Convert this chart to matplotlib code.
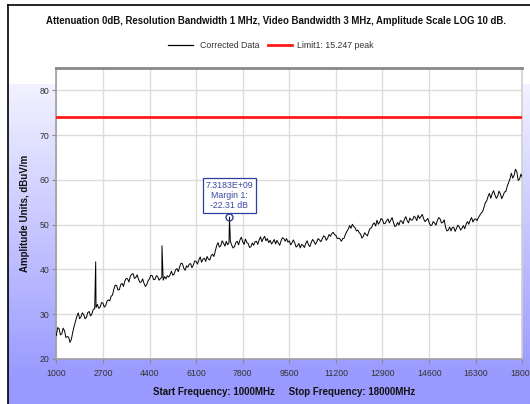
import numpy as np
import matplotlib
matplotlib.use("Agg")
import matplotlib.pyplot as plt
from matplotlib.lines import Line2D

# ---------------- data ----------------
title = "Attenuation 0dB, Resolution Bandwidth 1 MHz, Video Bandwidth 3 MHz, Amplitude Scale LOG 10 dB."
series_names = ["Corrected Data", "Limit1: 15.247 peak"]
x_ticks = [1000, 2700, 4400, 6100, 7800, 9500, 11200, 12900, 14600, 16300, 18000]
y_ticks = [20, 30, 40, 50, 60, 70, 80]
ylabel = "Amplitude Units, dBuV/m"
xlabel = "Start Frequency: 1000MHz     Stop Frequency: 18000MHz"

freq_start, freq_stop, freq_step = 1000, 18000, 100
# samples at 1000, 1100, ... 18000 MHz
trace_vals = [
    25.2, 26.8, 25.6, 26.3, 25.0, 23.7, 26.0, 28.4, 30.3, 29.4,   # 1000-1900
    29.9, 29.3, 30.6, 30.1, 31.2, 32.2, 31.6, 32.5, 31.9, 33.2,   # 2000-2900
    34.0, 35.6, 36.4, 35.5, 36.9, 37.4, 37.9, 38.5, 39.1, 38.2,   # 3000-3900
    37.8, 37.2, 36.9, 36.6, 37.9, 38.6, 37.8, 38.4, 38.0, 37.6,   # 4000-4900
    37.9, 38.3, 39.6, 39.0, 40.2, 40.6, 41.3, 39.8, 40.5, 41.3,   # 5000-5900
    41.0, 41.8, 42.1, 41.6, 42.5, 42.9, 42.1, 43.4, 44.1, 46.0,   # 6000-6900
    45.3, 45.9, 46.3, 46.0, 45.4, 45.1, 46.3, 46.6, 46.2, 46.8,   # 7000-7900
    45.8, 45.1, 45.4, 46.3, 46.6, 46.2, 47.4, 46.9, 46.5, 46.1,   # 8000-8900
    45.7, 45.9, 46.4, 46.9, 46.9, 46.4, 46.0, 45.9, 45.3, 44.8,   # 9000-9900
    45.4, 45.8, 45.5, 46.0, 46.3, 46.1, 46.6, 46.8, 47.3, 47.0,   # 10000-10900
    47.4, 48.3, 47.6, 47.0, 46.3, 47.0, 48.5, 49.8, 50.1, 49.3,   # 11000-11900
    48.8, 47.9, 47.4, 47.8, 48.5, 49.3, 50.4, 51.0, 50.6, 51.1,   # 12000-12900
    50.3, 51.3, 51.0, 50.5, 49.8, 49.9, 50.8, 51.2, 50.9, 51.5,   # 13000-13900
    51.1, 51.6, 52.1, 51.8, 51.3, 51.0, 50.5, 49.9, 50.4, 50.9,   # 14000-14900
    51.3, 50.5, 49.4, 48.8, 48.6, 49.4, 49.2, 49.5, 49.2, 49.1,   # 15000-15900
    50.7, 51.0, 50.6, 51.3, 51.6, 52.6, 53.8, 55.3, 57.0, 56.9,   # 16000-16900
    56.7, 56.3, 56.9, 56.5, 57.4, 59.4, 61.5, 61.0, 61.8, 60.2,   # 17000-17900
    60.6,                                                         # 18000
]
# samples at 1050, 1150, ... 17950 MHz
mid_vals = [
    27.0, 25.4, 26.9, 24.8, 24.9, 24.4, 27.3, 29.5, 29.0, 30.3,   # 1050-1950
    29.0, 30.4, 29.6, 31.1, 31.5, 31.3, 32.6, 31.6, 32.9, 33.0,   # 2050-2950
    34.3, 36.5, 35.4, 36.6, 36.2, 38.0, 37.2, 38.9, 38.0, 38.8,   # 3050-3950
    37.1, 37.9, 36.2, 37.5, 38.7, 37.7, 38.6, 37.6, 38.2, 38.4,   # 4050-4950
    38.6, 38.8, 38.7, 39.9, 39.5, 41.4, 40.3, 40.8, 41.2, 40.4,   # 5050-5950
    41.9, 41.2, 42.8, 42.3, 41.8, 42.3, 43.1, 42.9, 45.3, 45.0,   # 6050-6950
    46.4, 45.2, 45.5, 46.3, 44.8, 46.0, 45.5, 47.2, 45.6, 46.0,   # 7050-7950
    44.9, 45.9, 46.2, 45.6, 47.3, 46.9, 46.4, 46.0, 45.7, 46.7,   # 8050-8950
    46.5, 45.4, 47.1, 46.3, 46.1, 45.5, 46.6, 45.0, 45.8, 45.6,   # 9050-9950
    44.9, 46.4, 45.1, 46.7, 45.6, 46.9, 46.2, 47.5, 46.5, 47.8,   # 10050-10950
    48.0, 47.8, 46.9, 46.8, 46.9, 47.9, 49.0, 49.2, 49.6, 48.6,   # 11050-11950
    48.2, 47.0, 48.2, 47.5, 49.2, 50.1, 49.7, 50.1, 51.4, 50.2,   # 12050-12950
    50.9, 50.4, 51.6, 49.6, 50.5, 50.9, 50.2, 51.8, 50.4, 51.0,   # 13050-13950
    51.9, 50.9, 51.4, 52.3, 50.7, 51.4, 49.8, 50.7, 49.9, 51.6,   # 14050-14950
    50.4, 51.1, 48.6, 49.5, 49.4, 48.5, 49.9, 48.8, 49.8, 50.1,   # 15050-15950
    50.1, 51.6, 51.2, 50.9, 52.1, 52.9, 54.9, 56.3, 55.9, 57.6,   # 16050-16950
    55.9, 57.5, 55.8, 57.3, 58.6, 60.2, 60.4, 62.4, 59.9, 61.3,   # 17050-17950
]
spike_freqs = [2420, 2437, 4855, 7318]
spike_vals = [36.5, 41.7, 45.3, 51.7]

limit_value = 74.0
marker_freq = 7318
marker_val = 51.7
marker_text = "7.3183E+09\nMargin 1:\n-22.31 dB"

# ---------------- build series ----------------
base_f = np.arange(freq_start, freq_stop + 1, freq_step)
mid_f = np.arange(freq_start + freq_step // 2, freq_stop, freq_step)
f_all = np.concatenate([base_f, mid_f, spike_freqs])
v_all = np.concatenate([trace_vals, mid_vals, spike_vals])
order = np.argsort(f_all, kind="stable")
f_all, v_all = f_all[order], v_all[order]

W, H = 530, 404
plt.rcParams["font.family"] = ["Liberation Sans", "DejaVu Sans"]
fig = plt.figure(figsize=(W / 100, H / 100), dpi=100)

# background gradient / frame
bg = fig.add_axes([0, 0, 1, 1], zorder=-10)
bg.axis("off")
top_c = np.array([0.95, 0.95, 1.0])
bot_c = np.array([0.60, 0.60, 1.0])
n = 200
t = np.clip(np.linspace(0, 1, n) * (H - 84) / (380 - 84), 0, 1)
grad = top_c[None, :] * (1 - t[:, None]) + bot_c[None, :] * t[:, None]
bg.imshow(grad[:, None, :], extent=[8, W, H, 84], aspect="auto", interpolation="bilinear")
bg.plot([8, 8], [5, H], color="black", lw=1.2)
bg.plot([8, W], [5, 5], color="black", lw=1.2)
bg.set_xlim(0, W)
bg.set_ylim(H, 0)

# main axes
ax = fig.add_axes([56.3 / W, 1 - 359 / H, (522.3 - 56.3) / W, (359 - 68) / H])
ax.set_facecolor("white")
ax.plot(f_all, v_all, color="black", lw=0.7, zorder=3)
ax.axhline(limit_value, color="#ff1a1a", lw=2.0, zorder=3)

ax.set_xlim(freq_start, freq_stop)
ax.set_ylim(20, 85)
ax.set_xticks(x_ticks)
ax.set_yticks(y_ticks)
ax.grid(True, color="#dcdcdc", lw=1.0, zorder=0)
ax.set_axisbelow(True)
ax.tick_params(axis="both", length=3, width=0.8, color="#888888", labelsize=6.3,
               labelcolor="#333333")
ax.tick_params(axis="y", pad=2)
ax.tick_params(axis="x", pad=4)
for s in ["left", "bottom", "right"]:
    ax.spines[s].set_color("#a0a0a0")
    ax.spines[s].set_linewidth(1.2)
ax.spines["right"].set_color("#d0d0d0")
ax.spines["top"].set_color("#888888")
ax.spines["top"].set_linewidth(2.0)

# marker annotation
ax.plot([marker_freq], [marker_val], marker="o", ms=5, mfc="none", mec="#2f3f9f", mew=1.0, zorder=4)
ax.annotate(marker_text, xy=(marker_freq, marker_val), xytext=(0, 15.8), textcoords="offset points",
            ha="center", va="center", fontsize=6.3, color="#3a4aa0", linespacing=1.15,
            bbox=dict(boxstyle="square,pad=0.35", fc="white", ec="#2f3f9f", lw=0.9), zorder=5)

def px(x, y):
    return x / W, 1 - y / H

fig.text(*px(276, 20.5), title, ha="center", va="center", fontsize=6.9, fontweight="bold", color="#111111")

# legend
ly = 45
fig.add_artist(Line2D([168 / W, 193 / W], [1 - ly / H] * 2, color="black", lw=0.9))
fig.text(*px(200, ly), series_names[0], ha="left", va="center", fontsize=6.3, color="#333333")
fig.add_artist(Line2D([268 / W, 292 / W], [1 - ly / H] * 2, color="#ff1a1a", lw=2.0))
fig.text(*px(297, ly), series_names[1], ha="left", va="center", fontsize=6.3, color="#333333")

fig.text(*px(25, 213), ylabel, ha="center", va="center", rotation=90, fontsize=7.0,
         fontweight="bold", color="#111111")
fig.text(*px(284, 392), xlabel, ha="center", va="center", fontsize=7.0,
         fontweight="bold", color="#111111")

fig.savefig("out.png", dpi=100)
